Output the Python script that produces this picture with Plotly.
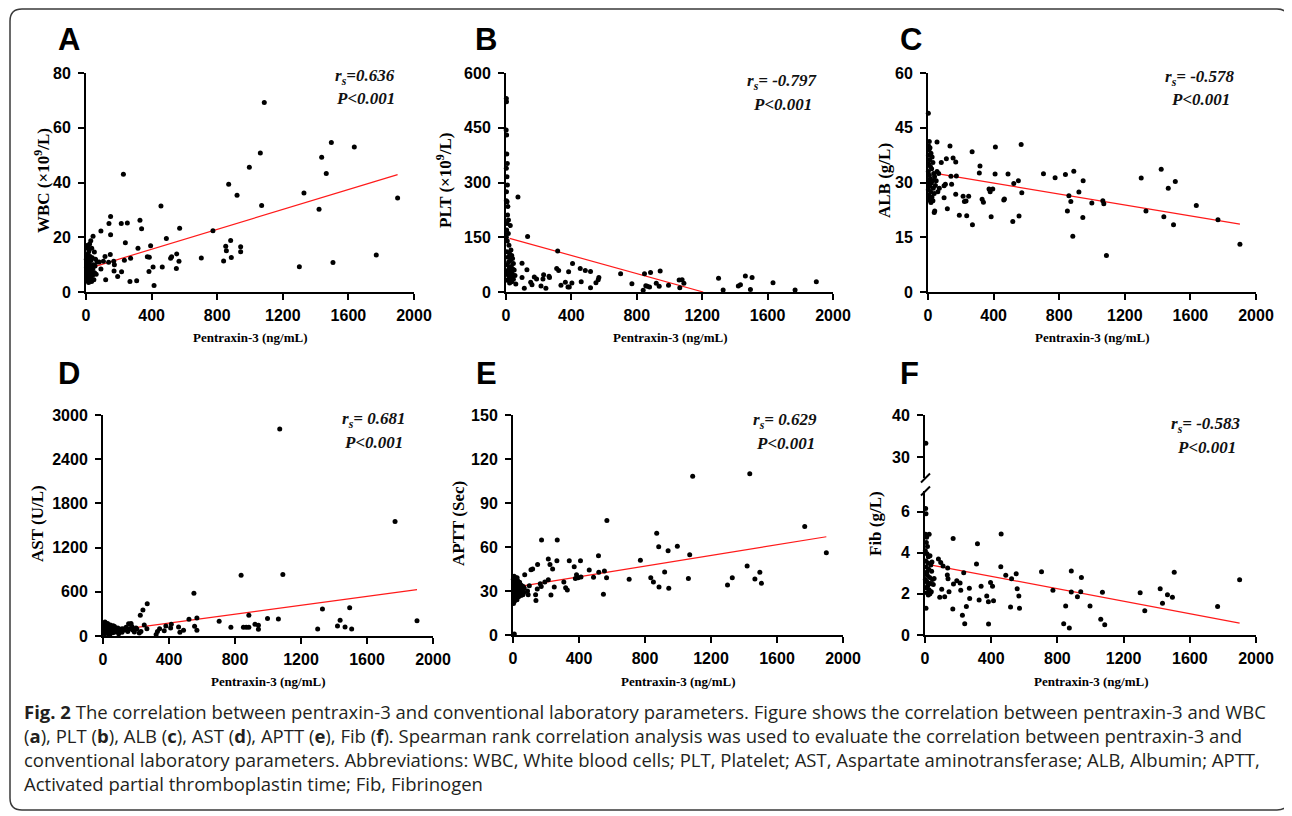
import plotly.graph_objects as go

# the page body has an 8px margin, so the figure is drawn 8px in from the window corner
PAGE_W, PAGE_H, OFFSET = 1292, 816, 8
W, H = PAGE_W - OFFSET, PAGE_H - OFFSET

# ---------------- data ----------------
# (pentraxin-3 ng/mL, lab value)
wbc_points = [
    (1900, 34.3), (1770, 13.5), (1636, 53), (1496, 54.6), (1506, 10.8), (1437, 49.2), (1465, 43.3),
    (1421, 30.2), (1329, 36.2), (1301, 9.2), (1087, 69.2), (1063, 50.8), (1071, 31.6), (996, 45.6),
    (921, 35.3), (870, 39.4), (882, 18.8), (852, 16.7), (856, 15.1), (886, 12.6), (943, 16.5),
    (943, 14.7), (839, 11.3), (774, 22.4), (703, 12.4), (571, 23.3), (567, 11.2), (553, 13.9),
    (551, 8.6), (522, 12.9), (516, 12.3), (490, 19.5), (457, 31.4), (465, 9.1), (415, 2.4),
    (409, 9.1), (394, 16.9), (374, 12.9), (386, 12.7), (384, 7.5), (339, 23.1), (329, 26.2),
    (317, 16), (309, 4.1), (268, 3.8), (272, 12.3), (252, 25.2), (240, 18), (234, 11.6), (228, 43),
    (215, 25), (217, 7.4), (193, 5.7), (173, 10), (171, 7.7), (169, 11.2), (150, 27.6), (150, 20.9),
    (148, 13.7), (140, 25), (138, 10.9), (120, 4.5), (116, 13), (106, 11.2), (91, 22.3), (91, 8.4),
    (80, 11), (68, 11), (51, 14.6), (43, 20.4), (35, 16), (29, 18.7), (22, 17.5), (10, 16.4),
    (2, 12), (3, 9), (4, 7), (5, 5), (6, 11), (7, 8), (8, 6), (9, 13), (10, 4), (11, 10), (12, 7.5),
    (13, 14), (14, 5.5), (15, 9), (16, 3.5), (17, 12), (18, 8), (19, 6.5), (20, 10.5), (22, 4.5),
    (24, 7), (25, 13), (27, 9.5), (28, 5), (30, 11.5), (32, 7.5), (34, 3.8), (36, 9), (38, 12.5),
    (40, 6), (42, 8.5), (45, 10), (48, 4.5), (52, 7), (55, 9.5), (58, 12), (62, 6.5), (18, 15),
    (6, 17), (12, 16),
]
plt_points = [
    (1898, 28), (1768, 5.5), (1633, 25.5), (1505, 40), (1495, 7), (1464, 43.7), (1434, 20),
    (1421, 16.4), (1328, 5.5), (1300, 38), (1088, 23.7), (1077, 33.7), (1063, 11.8), (1059, 32.8),
    (994, 18.2), (943, 57.4), (937, 15.5), (919, 23.7), (884, 53.7), (878, 13.7), (864, 15.5),
    (855, 17.3), (847, 50), (839, 4.5), (770, 22.8), (701, 50), (568, 40), (564, 33.7), (550, 25.5),
    (517, 11.8), (517, 56.5), (485, 59.2), (454, 64.7), (460, 28), (407, 78.3), (403, 24.6),
    (383, 55.6), (379, 13.7), (387, 13.7), (363, 27), (316, 112), (322, 59), (310, 64.7), (336, 18.2),
    (263, 43), (266, 40), (244, 10), (230, 47), (226, 35.5), (214, 16.4), (187, 35.5), (173, 41),
    (159, 20), (151, 27), (132, 152), (128, 61), (112, 10), (98, 40), (98, 79), (73, 260),
    (2, 530), (3, 521), (1, 444), (4, 430), (5, 378), (8, 352), (2, 339), (6, 316), (9, 293),
    (3, 275), (7, 247), (12, 234), (2, 250), (10, 211), (15, 197), (6, 188), (26, 182), (4, 170),
    (14, 160), (2, 150), (8, 140), (18, 128), (30, 115), (5, 110), (22, 105), (35, 100), (12, 95),
    (40, 92), (28, 88), (16, 82), (45, 78), (8, 75), (32, 70), (20, 66), (50, 60), (3, 58), (25, 55),
    (38, 50), (12, 47), (55, 45), (30, 42), (18, 38), (45, 35), (8, 32), (35, 28), (22, 25), (60, 22),
    (15, 50), (42, 62), (28, 30),
]
alb_points = [
    (1902, 13.1), (1768, 19.8), (1636, 23.7), (1508, 30.3), (1497, 18.4), (1465, 28.4), (1438, 20.6),
    (1422, 33.6), (1329, 22.2), (1300, 31.2), (1088, 10), (1072, 24.2), (1066, 25), (999, 24.4),
    (946, 30.5), (944, 20.4), (920, 27.4), (889, 33.1), (883, 15.3), (871, 24.8), (859, 26.4),
    (850, 22.2), (838, 32.2), (775, 31.3), (704, 32.4), (568, 40.4), (572, 27.2), (551, 30.5),
    (555, 20.8), (523, 29.7), (517, 19.3), (488, 32.3), (462, 25.2), (466, 25.5), (409, 32.3),
    (411, 39.7), (395, 28.2), (379, 27.5), (372, 28.2), (385, 20.6), (338, 24.6), (330, 25.4),
    (313, 32.6), (317, 34.5), (271, 18.4), (269, 38.4), (248, 26.2), (236, 20.9), (232, 24.9),
    (222, 24.8), (214, 26.2), (191, 21), (173, 31.8), (169, 35.6), (169, 26.8), (153, 36.7),
    (140, 31.7), (144, 29.5), (134, 40), (118, 22.8), (112, 36.5), (106, 29.5), (98, 29.1),
    (98, 25.8), (81, 35.5), (69, 28.4), (55, 41.1), (41, 22.2), (38, 21.8),
    (2, 49), (8, 41.2), (4, 40), (12, 39.5), (6, 38.9), (18, 38), (3, 37.5), (25, 37), (10, 36.2),
    (30, 35.5), (5, 35), (15, 34.3), (22, 33.8), (2, 33), (35, 32.5), (8, 32), (40, 31.6), (14, 31),
    (28, 30.5), (4, 30), (20, 29.8), (45, 29.2), (10, 29), (32, 28.4), (2, 28), (16, 27.5), (38, 27),
    (6, 26.5), (24, 26), (12, 25.7), (3, 25.2), (30, 25), (18, 24.5), (50, 30.5), (55, 33),
    (60, 27.5), (65, 32.5),
]
ast_points = [
    (1903, 208), (1770, 1554), (1507, 95), (1495, 385), (1467, 122), (1437, 213), (1421, 136),
    (1330, 367), (1301, 95), (1090, 834), (1071, 2809), (1063, 231), (997, 236), (942, 91),
    (942, 145), (921, 158), (884, 281), (884, 118), (868, 118), (851, 118), (837, 825), (775, 118),
    (704, 199), (569, 245), (569, 77), (555, 131), (551, 580), (521, 227), (488, 77), (466, 50),
    (458, 122), (414, 158), (410, 109), (381, 136), (371, 72), (343, 100), (330, 60), (322, 20),
    (268, 439), (242, 353), (226, 281), (250, 149), (266, 100), (230, 60), (220, 40), (205, 95),
    (5, 150), (8, 120), (12, 190), (15, 80), (18, 160), (20, 40), (24, 110), (28, 170), (30, 60),
    (34, 135), (38, 90), (42, 25), (45, 150), (50, 70), (55, 115), (60, 45), (65, 95), (70, 130),
    (75, 55), (80, 85), (90, 110), (95, 30), (100, 75), (110, 95), (115, 50), (120, 100), (130, 80),
    (140, 120), (150, 60), (155, 165), (160, 100), (170, 170), (175, 130), (180, 80), (190, 55),
    (200, 110), (3, 60), (6, 95), (10, 30), (25, 75), (35, 20), (48, 100), (62, 140), (85, 60),
]
aptt_points = [
    (1899, 56.1), (1768, 73.9), (1506, 35.2), (1496, 42.7), (1466, 38.2), (1435, 110), (1419, 47),
    (1329, 39.1), (1300, 34.1), (1089, 108.2), (1071, 54.8), (1063, 38.6), (996, 60.5), (944, 31.8),
    (940, 57.5), (919, 43), (885, 32.7), (883, 60.2), (871, 69.3), (851, 36.1), (835, 39.1),
    (772, 50.9), (704, 38), (569, 78), (567, 39.1), (554, 43.6), (548, 27.7), (518, 54.1),
    (520, 42.7), (488, 39.3), (462, 44.3), (409, 50.7), (412, 39.5), (395, 39), (385, 41),
    (378, 38.5), (371, 46.6), (341, 50.7), (329, 30.7), (319, 32.3), (308, 36.1), (250, 32.7),
    (266, 50.7), (268, 64.8), (240, 45), (230, 27.3), (224, 48), (214, 51.8), (214, 37.7),
    (193, 36.1), (173, 64.8), (171, 33), (165, 35), (147, 31.4), (149, 48), (139, 23.6), (137, 27.5),
    (119, 45), (109, 44.5), (99, 33.6), (92, 27.5), (88, 30), (71, 41), (8, 0.7),
    (2, 38), (4, 35), (6, 32), (8, 29), (10, 36), (12, 26), (14, 33), (16, 39), (18, 30), (20, 27),
    (22, 35), (24, 24), (26, 31), (28, 37), (30, 28), (32, 34), (34, 26), (36, 30), (38, 33),
    (40, 36), (42, 29), (45, 32), (48, 27), (50, 34), (52, 30), (55, 28), (58, 31), (62, 33),
    (65, 29), (3, 21.5), (5, 25), (7, 40), (9, 23), (11, 38), (13, 31), (15, 28), (17, 35), (19, 25),
    (21, 33), (25, 39), (60, 27.5), (68, 32),
]
fib_points = [
    (1901, 2.69), (1768, 1.39), (1506, 3.05), (1495, 1.83), (1465, 1.96), (1435, 1.54), (1421, 2.25),
    (1328, 1.18), (1300, 2.05), (1086, 0.5), (1072, 2.08), (1062, 0.76), (997, 1.41), (945, 2.8),
    (941, 2.1), (921, 1.86), (884, 3.11), (884, 2.09), (872, 0.34), (850, 1.41), (838, 0.55),
    (773, 2.17), (704, 3.08), (571, 1.3), (567, 1.9), (557, 2.25), (551, 2.98), (523, 2.74),
    (517, 1.36), (488, 2.9), (460, 4.91), (458, 3.32), (414, 1.67), (408, 2.37), (396, 2.55),
    (384, 0.54), (383, 1.62), (373, 1.9), (339, 2.37), (327, 1.7), (317, 4.43), (311, 3.45),
    (270, 1.77), (268, 2.27), (250, 1.39), (240, 0.55), (234, 3.02), (226, 0.96), (216, 2.17),
    (212, 2.53), (192, 2.64), (170, 4.69), (168, 1.26), (172, 2.48), (145, 2.1), (139, 2.74),
    (137, 3.26), (135, 2.92), (119, 1.86), (109, 3.36), (95, 3.52), (101, 2.23), (81, 3.7), (89, 1.83),
    (4, 6.15), (6, 5.9), (3, 4.9), (10, 4.75), (25, 4.9), (8, 4.5), (15, 4.3), (2, 4.1), (12, 3.95),
    (20, 3.8), (30, 3.85), (5, 3.6), (18, 3.5), (35, 3.4), (7, 3.3), (22, 3.2), (40, 3.1), (3, 3.0),
    (14, 2.9), (28, 2.8), (45, 2.7), (9, 2.6), (33, 2.5), (17, 2.4), (50, 2.45), (4, 2.3), (24, 2.2),
    (38, 2.1), (12, 2.05), (30, 2.0), (20, 1.95), (26, 2.15), (6, 1.3), (2, 2.7), (16, 2.55),
    (55, 2.75), (42, 3.55), (10, 3.05), (5, 33.3),
]

# fitted lines (start, end) as drawn in the figure
wbc_trend = [(47, 9.2), (1900, 42.9)]
plt_trend = [(22, 147), (1206, 0)]
alb_trend = [(73, 32.3), (1902, 18.6)]
ast_trend = [(150, 100), (1903, 630)]
aptt_trend = [(32, 33), (1899, 67)]
fib_trend = [(39, 3.4), (1901, 0.58)]

panel_letters = ["A", "B", "C", "D", "E", "F"]
y_titles = ["WBC (×10<sup>9</sup>/L)", "PLT (×10<sup>9</sup>/L)", "ALB (g/L)",
            "AST (U/L)", "APTT (Sec)", "Fib (g/L)"]
rs_labels = ["=0.636", "= -0.797", "= -0.578", "= 0.681", "= 0.629", "= -0.583"]
p_label = "P<0.001"
x_title = "Pentraxin-3 (ng/mL)"
x_ticks = [0, 400, 800, 1200, 1600, 2000]
y_ticks = [[0, 20, 40, 60, 80], [0, 150, 300, 450, 600], [0, 15, 30, 45, 60],
           [0, 600, 1200, 1800, 2400, 3000], [0, 30, 60, 90, 120, 150], [0, 2, 4, 6]]
fib_upper_ticks = [30, 40]

caption_lines = [
    "<b>Fig. 2</b> The correlation between pentraxin-3 and conventional laboratory parameters. "
    "Figure shows the correlation between pentraxin-3 and WBC",
    "(<b>a</b>), PLT (<b>b</b>), ALB (<b>c</b>), AST (<b>d</b>), APTT (<b>e</b>), Fib (<b>f</b>). "
    "Spearman rank correlation analysis was used to evaluate the correlation between pentraxin-3 and",
    "conventional laboratory parameters. Abbreviations: WBC, White blood cells; PLT, Platelet; "
    "AST, Aspartate aminotransferase; ALB, Albumin; APTT,",
    "Activated partial thromboplastin time; Fib, Fibrinogen",
]


# ---------------- layout (page pixel boxes) ----------------
def fx(x):
    return (x - OFFSET) / W


def fy(y):
    return 1 - (y - OFFSET) / H


# left, right, top, bottom of each plot area in page pixels
boxes = [(86, 414, 73, 292), (506, 833, 73, 292), (928, 1256, 73, 292),
         (103, 433, 415, 636), (513, 843, 415, 635), (925, 1256, 491, 635)]
y_ranges = [[0, 80], [0, 600], [0, 60], [0, 3000], [0, 150], [0, 7]]
fib_upper_box = (415, 478)
fib_upper_range = [25, 40]
letter_pos = [(69, 39), (486, 39), (911, 39), (69, 374), (486, 374), (909, 374)]
ytitle_pos = [(42, 181), (444, 181), (885, 181), (37, 524), (458, 524), (875, 524)]
stat_pos = [(365, 77), (782, 82), (1200, 78), (374, 420), (785, 421), (1206, 425)]

all_points = [wbc_points, plt_points, alb_points, ast_points, aptt_points, fib_points]
all_trends = [wbc_trend, plt_trend, alb_trend, ast_trend, aptt_trend, fib_trend]

tick_font = dict(family="Liberation Sans, Arial", size=16, color="black", weight="bold")
axis_style = dict(showline=True, linecolor="black", linewidth=2, ticks="outside", ticklen=6,
                  tickwidth=2, tickcolor="black", showgrid=False, zeroline=False,
                  tickfont=tick_font)
serif = "Liberation Serif, Times New Roman"


def note(x, y, text, font, xanchor="center", **kw):
    return dict(x=fx(x), y=fy(y), xref="paper", yref="paper", text=text, showarrow=False,
                xanchor=xanchor, yanchor="middle", font=font, **kw)


fig = go.Figure()
layout = {}
annotations = []

for i, (pts, trend) in enumerate(zip(all_points, all_trends), start=1):
    xa, ya = f"x{i}", f"y{i}"
    main = [p for p in pts if not (i == 6 and p[1] > 20)]
    fig.add_trace(go.Scatter(x=[p[0] for p in trend], y=[p[1] for p in trend], mode="lines",
                             line=dict(color="#ff1a1a", width=1.2), xaxis=xa, yaxis=ya,
                             showlegend=False, hoverinfo="skip"))
    fig.add_trace(go.Scatter(x=[p[0] for p in main], y=[p[1] for p in main], mode="markers",
                             marker=dict(color="black", size=5), xaxis=xa, yaxis=ya,
                             cliponaxis=False, showlegend=False))
    left, right, top, bottom = boxes[i - 1]
    kx = "xaxis" if i == 1 else f"xaxis{i}"
    ky = "yaxis" if i == 1 else f"yaxis{i}"
    layout[kx] = dict(axis_style, domain=[fx(left), fx(right)], anchor=ya, range=[0, 2000],
                      tickvals=x_ticks, ticklabelstandoff=2)
    layout[ky] = dict(axis_style, domain=[fy(bottom), fy(top)], anchor=xa,
                      range=y_ranges[i - 1], tickvals=y_ticks[i - 1], ticklabelstandoff=4)

    lx, ly = letter_pos[i - 1]
    annotations.append(note(lx, ly, panel_letters[i - 1],
                            dict(family="Liberation Sans, Arial", size=31, color="black",
                                 weight="bold")))
    tx, ty = ytitle_pos[i - 1]
    annotations.append(note(tx, ty, f"<b>{y_titles[i - 1]}</b>",
                            dict(family=serif, size=17, color="black"), textangle=-90))
    xt_y = 337 if i <= 3 else 681
    annotations.append(note((left + right) / 2, xt_y, f"<b>{x_title}</b>",
                            dict(family=serif, size=13, color="black")))
    sx, sy = stat_pos[i - 1]
    annotations.append(note(sx, sy, f"<b><i>r<sub>s</sub>{rs_labels[i - 1]}</i></b>",
                            dict(family=serif, size=17, color="#111")))
    annotations.append(note(sx, sy + 22, f"<b><i>{p_label}</i></b>",
                            dict(family=serif, size=17, color="#111")))

# Fib: upper segment of the broken y axis
upper = [p for p in fib_points if p[1] > 20]
fig.add_trace(go.Scatter(x=[p[0] for p in upper], y=[p[1] for p in upper], mode="markers",
                         marker=dict(color="black", size=5), xaxis="x6", yaxis="y7",
                         cliponaxis=False, showlegend=False))
layout["yaxis7"] = dict(axis_style, domain=[fy(fib_upper_box[1]), fy(fib_upper_box[0])],
                        anchor="x6", range=fib_upper_range, tickvals=fib_upper_ticks,
                        ticklabelstandoff=4)

shapes = []
for y0 in (478, 491):
    shapes.append(dict(type="line", xref="paper", yref="paper", x0=fx(921), y0=fy(y0 + 4.5),
                       x1=fx(930), y1=fy(y0 - 4.5), line=dict(color="black", width=2)))

# rounded frame around the figure
x0, x1, y0, y1, r = 10, 1289, 9, 810, 12
pts_path = [
    ("M", x0 + r, y0), ("L", x1 - r, y0), ("Q", x1, y0, x1, y0 + r), ("L", x1, y1 - r),
    ("Q", x1, y1, x1 - r, y1), ("L", x0 + r, y1), ("Q", x0, y1, x0, y1 - r), ("L", x0, y0 + r),
    ("Q", x0, y0, x0 + r, y0),
]
path = ""
for seg in pts_path:
    cmd, coords = seg[0], seg[1:]
    pairs = [f"{fx(coords[k]):.5f},{fy(coords[k + 1]):.5f}" for k in range(0, len(coords), 2)]
    path += cmd + " ".join(pairs) + " "
shapes.append(dict(type="path", xref="paper", yref="paper", path=path + "Z",
                   line=dict(color="#3a3a3a", width=1.5)))

for k, line in enumerate(caption_lines):
    annotations.append(note(22, 711 + 24 * k, line,
                            dict(family="Open Sans, Noto Sans", size=18.5, color="#231f20"),
                            xanchor="left"))

fig.update_layout(**layout)
fig.update_layout(width=W, height=H, margin=dict(l=0, r=0, t=0, b=0, autoexpand=False),
                  paper_bgcolor="white", plot_bgcolor="white",
                  annotations=annotations, shapes=shapes)

fig.write_html("out.html")
